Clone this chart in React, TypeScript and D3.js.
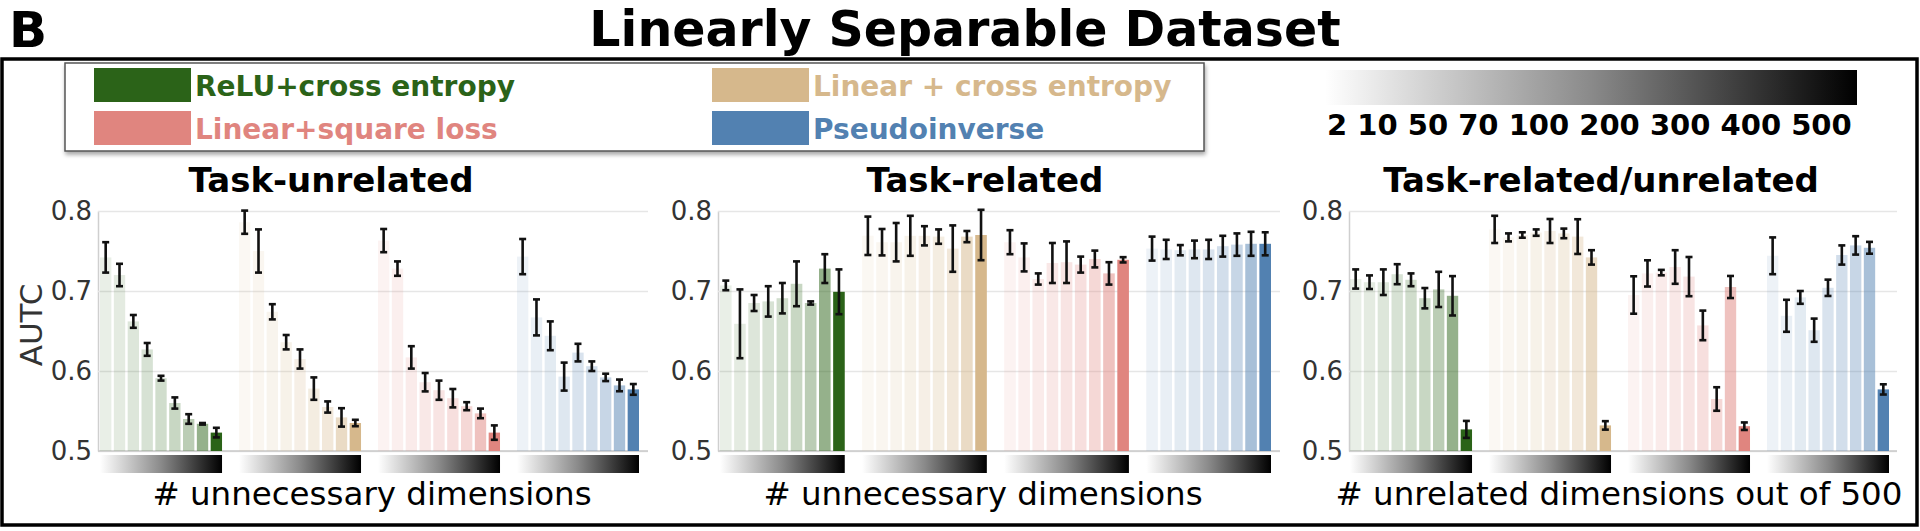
import { useEffect, useRef } from 'react'
import * as d3 from 'd3'

// methods in bar order inside every panel
const methods = ['ReLU+cross entropy', 'Linear + cross entropy', 'Linear+square loss', 'Pseudoinverse']
const methodColors = ['#2b6318', '#d6b88c', '#e0857f', '#5281b1']
// legend order: column 1 then column 2
const legendOrder = [0, 2, 1, 3]

const dims = [2, 10, 50, 70, 100, 200, 300, 400, 500]
const yTicks = [0.5, 0.6, 0.7, 0.8]

const panelTitles = ['Task-unrelated', 'Task-related', 'Task-related/unrelated']
const xLabels = ['# unnecessary dimensions', '# unnecessary dimensions', '# unrelated dimensions out of 500']

// Task-unrelated
const unrelMean = [
  [0.742, 0.72, 0.662, 0.627, 0.591, 0.56, 0.54, 0.534, 0.523],
  [0.786, 0.75, 0.674, 0.636, 0.615, 0.578, 0.555, 0.542, 0.535],
  [0.763, 0.728, 0.617, 0.586, 0.576, 0.566, 0.556, 0.547, 0.523],
  [0.743, 0.667, 0.644, 0.593, 0.623, 0.606, 0.592, 0.582, 0.577],
]
const unrelErr = [
  [0.019, 0.014, 0.008, 0.008, 0.003, 0.007, 0.006, 0.001, 0.006],
  [0.0145, 0.027, 0.0095, 0.009, 0.012, 0.014, 0.007, 0.0115, 0.004],
  [0.0145, 0.009, 0.014, 0.0115, 0.012, 0.0115, 0.005, 0.006, 0.009],
  [0.022, 0.0225, 0.018, 0.0175, 0.011, 0.006, 0.0046, 0.0073, 0.0067],
]

// Task-related
const relMean = [
  [0.707, 0.659, 0.685, 0.687, 0.691, 0.709, 0.685, 0.728, 0.699],
  [0.769, 0.761, 0.761, 0.769, 0.769, 0.768, 0.753, 0.768, 0.77],
  [0.761, 0.742, 0.715, 0.735, 0.736, 0.733, 0.74, 0.722, 0.739],
  [0.753, 0.752, 0.751, 0.752, 0.752, 0.756, 0.758, 0.759, 0.759],
]
const relErr = [
  [0.006, 0.043, 0.01, 0.019, 0.019, 0.028, 0.002, 0.018, 0.028],
  [0.024, 0.0165, 0.024, 0.025, 0.012, 0.009, 0.029, 0.007, 0.0315],
  [0.015, 0.0175, 0.007, 0.025, 0.026, 0.01, 0.0105, 0.014, 0.0033],
  [0.015, 0.012, 0.0064, 0.011, 0.012, 0.013, 0.014, 0.015, 0.0144],
]

// Task-related/unrelated
const mixMean = [
  [0.715, 0.711, 0.711, 0.721, 0.714, 0.691, 0.702, 0.694, 0.527],
  [0.777, 0.767, 0.77, 0.773, 0.775, 0.772, 0.768, 0.742, 0.532],
  [0.695, 0.722, 0.723, 0.73, 0.718, 0.657, 0.565, 0.705, 0.531],
  [0.744, 0.669, 0.692, 0.651, 0.704, 0.745, 0.757, 0.754, 0.577],
]
const mixErr = [
  [0.012, 0.0085, 0.016, 0.0125, 0.008, 0.0127, 0.022, 0.0246, 0.0106],
  [0.017, 0.005, 0.0034, 0.004, 0.015, 0.006, 0.0217, 0.009, 0.0053],
  [0.0234, 0.0164, 0.0034, 0.021, 0.0245, 0.0185, 0.0147, 0.0138, 0.0047],
  [0.023, 0.02, 0.008, 0.0145, 0.0102, 0.012, 0.0115, 0.0074, 0.0064],
]

const panelMeans = [unrelMean, relMean, mixMean]
const panelErrs = [unrelErr, relErr, mixErr]

// bar fill opacity per dimension index (light -> full)
const barAlpha = [0.1, 0.13, 0.16, 0.19, 0.22, 0.26, 0.32, 0.5, 1]

const W = 1920
const H = 531
const FONT = '"DejaVu Sans", Verdana, sans-serif'

const panelLayout = [
  { axisX: 98, g0: 100, g1: 639, gridEnd: 648, titleX: 331, labelX: 372 },
  { axisX: 718, g0: 720, g1: 1271, gridEnd: 1280, titleX: 985, labelX: 983 },
  { axisX: 1349, g0: 1350, g1: 1889, gridEnd: 1897, titleX: 1601, labelX: 1619 },
]

export default function App() {
  const svgRef = useRef<SVGSVGElement>(null)

  useEffect(() => {
    if (!svgRef.current) return
    const svg = d3.select(svgRef.current)
    svg.selectAll('*').remove()

    const defs = svg.append('defs')
    const grad = defs.append('linearGradient').attr('id', 'greys').attr('x1', 0).attr('x2', 1).attr('y1', 0).attr('y2', 0)
    grad.append('stop').attr('offset', '0%').attr('stop-color', '#ffffff')
    grad.append('stop').attr('offset', '50%').attr('stop-color', '#8a8a8a')
    grad.append('stop').attr('offset', '100%').attr('stop-color', '#000000')
    defs.append('filter').attr('id', 'shadow').attr('x', '-5%').attr('y', '-20%').attr('width', '110%').attr('height', '150%')
      .append('feDropShadow').attr('dx', 1).attr('dy', 3).attr('stdDeviation', 2).attr('flood-color', '#000').attr('flood-opacity', 0.35)

    svg.append('rect').attr('width', W).attr('height', H).attr('fill', '#fff')

    // panel letter + main title
    svg.append('text').attr('x', 9).attr('y', 47).attr('font-family', FONT).attr('font-weight', 'bold')
      .attr('font-size', 50).attr('fill', '#000').text('B')
    svg.append('text').attr('x', 965).attr('y', 46).attr('text-anchor', 'middle').attr('font-family', FONT)
      .attr('font-weight', 'bold').attr('font-size', 49).attr('fill', '#000').text('Linearly Separable Dataset')

    // outer frame
    svg.append('rect').attr('x', 2).attr('y', 59).attr('width', 1915).attr('height', 466)
      .attr('fill', 'none').attr('stroke', '#000').attr('stroke-width', 3.5)

    // legend box
    svg.append('rect').attr('x', 65).attr('y', 63).attr('width', 1139).attr('height', 88)
      .attr('fill', '#fff').attr('stroke', '#555').attr('stroke-width', 1.5).attr('filter', 'url(#shadow)')
    const legendCols = [94, 712]
    const legendRows = [68, 111]
    legendOrder.forEach((m, k) => {
      const col = Math.floor(k / 2)
      const row = k % 2
      const lx = legendCols[col]
      const ly = legendRows[row]
      svg.append('rect').attr('x', lx).attr('y', ly).attr('width', 97).attr('height', 34).attr('fill', methodColors[m])
      svg.append('text').attr('x', lx + 101).attr('y', ly + 27.5).attr('font-family', FONT).attr('font-weight', 'bold')
        .attr('font-size', 28).attr('fill', methodColors[m]).text(methods[m])
    })

    // top colorbar for # dims
    svg.append('rect').attr('x', 1325).attr('y', 70).attr('width', 532).attr('height', 35).attr('fill', 'url(#greys)')
    svg.append('text').attr('x', 1327).attr('y', 135).attr('font-family', FONT).attr('font-weight', 'bold')
      .attr('font-size', 29).attr('fill', '#000').text(dims.join(' '))

    const y = d3.scaleLinear().domain([0.5, 0.8]).range([451, 211])

    panelLayout.forEach((p, pi) => {
      const g = svg.append('g')
      const groupX = d3.scaleBand<number>().domain(d3.range(methods.length)).range([p.g0, p.g1]).paddingInner(0.122)
      const barX = d3.scaleBand<number>().domain(d3.range(dims.length)).range([0, groupX.bandwidth()]).paddingInner(0.18)

      // grid + axis
      const axis = d3.axisLeft(y).tickValues(yTicks).tickFormat(d3.format('.1f'))
        .tickSize(-(p.gridEnd - p.axisX)).tickSizeOuter(0).tickPadding(6)
      const ag = g.append('g').attr('transform', `translate(${p.axisX},0)`).call(axis)
      ag.select('.domain').attr('stroke', '#cfcfcf').attr('stroke-width', 1.5)
      ag.selectAll('.tick line').attr('stroke', '#e6e6e6').attr('stroke-width', 1.5)
      ag.selectAll('.tick text').attr('font-family', FONT).attr('font-size', 26).attr('fill', '#333')
      g.append('line').attr('x1', p.axisX).attr('x2', p.gridEnd).attr('y1', y(0.5)).attr('y2', y(0.5))
        .attr('stroke', '#c8c8c8').attr('stroke-width', 1.5)

      const means = panelMeans[pi]
      const errs = panelErrs[pi]
      means.forEach((vals, m) => {
        const gx = groupX(m)!
        const mg = g.append('g').attr('transform', `translate(${gx},0)`)
        mg.selectAll('rect.bar').data(vals).join('rect').attr('class', 'bar')
          .attr('x', (_, i) => barX(i)!).attr('width', barX.bandwidth())
          .attr('y', (d) => y(d)).attr('height', (d) => y(0.5) - y(d))
          .attr('fill', methodColors[m]).attr('fill-opacity', (_, i) => barAlpha[i])
        const eb = mg.selectAll('g.err').data(vals).join('g').attr('class', 'err')
          .attr('stroke', '#111').attr('stroke-width', 2.6)
        const cx = (i: number) => barX(i)! + barX.bandwidth() / 2
        eb.append('line').attr('x1', (_, i) => cx(i)).attr('x2', (_, i) => cx(i))
          .attr('y1', (d, i) => y(d + errs[m][i])).attr('y2', (d, i) => y(d - errs[m][i]))
        eb.append('line').attr('x1', (_, i) => cx(i) - 3.5).attr('x2', (_, i) => cx(i) + 3.5)
          .attr('y1', (d, i) => y(d + errs[m][i])).attr('y2', (d, i) => y(d + errs[m][i]))
        eb.append('line').attr('x1', (_, i) => cx(i) - 3.5).attr('x2', (_, i) => cx(i) + 3.5)
          .attr('y1', (d, i) => y(d - errs[m][i])).attr('y2', (d, i) => y(d - errs[m][i]))

        // colorbar under each group
        g.append('rect').attr('x', gx).attr('y', 455).attr('width', groupX.bandwidth()).attr('height', 18)
          .attr('fill', 'url(#greys)')
      })

      g.append('text').attr('x', p.titleX).attr('y', 192).attr('text-anchor', 'middle').attr('font-family', FONT)
        .attr('font-weight', 'bold').attr('font-size', 34).attr('fill', '#000').text(panelTitles[pi])
      g.append('text').attr('x', p.labelX).attr('y', 505).attr('text-anchor', 'middle').attr('font-family', FONT)
        .attr('font-size', 32.5).attr('fill', '#000').text(xLabels[pi])
    })

    svg.append('text').attr('transform', 'translate(42,325) rotate(-90)').attr('text-anchor', 'middle')
      .attr('font-family', FONT).attr('font-size', 31).attr('fill', '#333').text('AUTC')
  }, [])

  return (
    <svg ref={svgRef} width={W} height={H} style={{ position: 'absolute', left: 0, top: 0 }} />
  )
}
